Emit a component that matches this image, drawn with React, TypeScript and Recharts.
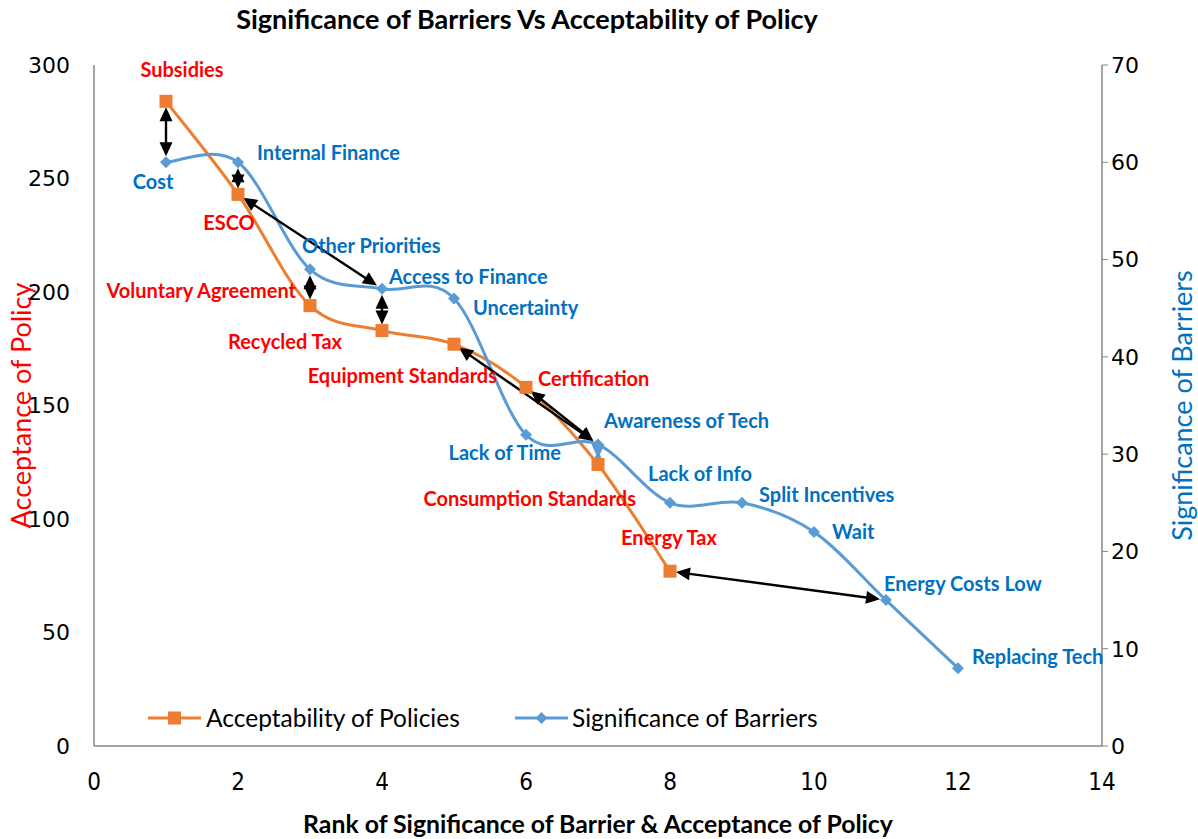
import React from "react";
import {
  LineChart,
  Line,
  XAxis,
  YAxis,
  ReferenceLine,
  LabelList,
  Legend,
} from "recharts";

// ranks 1..12 on the x axis
const policyRanks = [1, 2, 3, 4, 5, 6, 7, 8];
const policyNames = [
  "Subsidies",
  "ESCO",
  "Voluntary Agreement",
  "Recycled Tax",
  "Equipment Standards",
  "Certification",
  "Consumption Standards",
  "Energy Tax",
];
const policyValues = [284, 243, 194, 183, 177, 158, 124, 77];

const barrierRanks = [1, 2, 3, 4, 5, 6, 7, 8, 9, 10, 11, 12];
const barrierNames = [
  "Cost",
  "Internal Finance",
  "Other Priorities",
  "Access to Finance",
  "Uncertainty",
  "Lack of Time",
  "Awareness of Tech",
  "Lack of Info",
  "Split Incentives",
  "Wait",
  "Energy Costs Low",
  "Replacing Tech",
];
const barrierValues = [60, 60, 49, 47, 46, 32, 31, 25, 25, 22, 15, 8];

const xTicks = [0, 2, 4, 6, 8, 10, 12, 14];
const policyTicks = [0, 50, 100, 150, 200, 250, 300];
const barrierTicks = [0, 10, 20, 30, 40, 50, 60, 70];

// [policy rank, barrier rank] pairs joined by an arrow
const links = [
  [1, 1],
  [2, 2],
  [2, 4],
  [3, 3],
  [4, 4],
  [5, 7],
  [6, 7],
  [7, 7],
  [8, 11],
];

const ORANGE = "#ED7D31";
const BLUE = "#5B9BD5";
const RED_TEXT = "#FF0000";
const BLUE_TEXT = "#0070C0";
const AXIS = "#868686";
const FONT = "Lato, 'Open Sans', sans-serif";
const NUM_FONT = "'DejaVu Sans', sans-serif";
const NARROW_FONT = "'Liberation Sans Narrow', 'DejaVu Sans Condensed', Lato, sans-serif";

const POLICY_MAX = 300;
const BARRIER_MAX = 70;

// label placement relative to each point (anchor, dx, dy in px)
const policyLabelPos: [string, number, number][] = [
  ["middle", 16, -32],
  ["middle", -9, 28],
  ["end", -14, -16],
  ["end", -40, 10],
  ["end", 43, 31],
  ["start", 12, -9],
  ["end", 38, 33],
  ["middle", -1, -34],
];
const barrierLabelPos: [string, number, number][] = [
  ["middle", -13, 19],
  ["start", 19, -10],
  ["start", -8, -24],
  ["start", 7, -13],
  ["start", 19, 9],
  ["end", 35, 17],
  ["start", 6, -24],
  ["start", -22, -30],
  ["start", 17, -9],
  ["start", 18, -1],
  ["start", -2, -17],
  ["start", 14, -12],
];

const data = barrierRanks.map((rank, i) => {
  const p = policyRanks.indexOf(rank);
  return {
    rank,
    policy: p >= 0 ? policyValues[p] : null,
    policyName: p >= 0 ? policyNames[p] : null,
    barrier: barrierValues[i],
    barrierName: barrierNames[i],
  };
});

// Excel style smoothed line (Catmull-Rom through every point)
const excelSmooth = (context: any) => {
  let pts: number[][] = [];
  return {
    areaStart() {},
    areaEnd() {},
    lineStart() {
      pts = [];
    },
    point(x: number, y: number) {
      pts.push([+x, +y]);
    },
    lineEnd() {
      const n = pts.length;
      if (!n) return;
      context.moveTo(pts[0][0], pts[0][1]);
      for (let i = 0; i < n - 1; i++) {
        const p0 = pts[Math.max(i - 1, 0)];
        const p1 = pts[i];
        const p2 = pts[i + 1];
        const p3 = pts[Math.min(i + 2, n - 1)];
        context.bezierCurveTo(
          p1[0] + (p2[0] - p0[0]) / 6,
          p1[1] + (p2[1] - p0[1]) / 6,
          p2[0] - (p3[0] - p1[0]) / 6,
          p2[1] - (p3[1] - p1[1]) / 6,
          p2[0],
          p2[1]
        );
      }
    },
  };
};

const Square = (props: any) => {
  const { cx, cy, payload } = props;
  if (cx == null || cy == null || payload?.policy == null) return null;
  return <rect x={cx - 6.5} y={cy - 6.5} width={13} height={13} fill={ORANGE} />;
};

const Diamond = (props: any) => {
  const { cx, cy } = props;
  if (cx == null || cy == null) return null;
  const r = 6;
  return (
    <polygon
      points={`${cx},${cy - r} ${cx + r},${cy} ${cx},${cy + r} ${cx - r},${cy}`}
      fill={BLUE}
    />
  );
};

const makeLabel =
  (pos: [string, number, number][], color: string) => (props: any) => {
    const { x, y, value, index } = props;
    if (value == null || x == null || y == null || !pos[index]) return null;
    const [anchor, dx, dy] = pos[index];
    return (
      <text
        x={x + dx}
        y={y + dy}
        textAnchor={anchor}
        dominantBaseline="central"
        fill={color}
        fontFamily={FONT}
        fontWeight={700}
        fontSize={20}
      >
        {value}
      </text>
    );
  };

const arrowShape = (color: string) => (props: any) => {
  const { x1, y1, x2, y2 } = props;
  if ([x1, y1, x2, y2].some((v) => v == null || isNaN(v))) return null;
  const len = Math.hypot(x2 - x1, y2 - y1);
  const ux = (x2 - x1) / len;
  const uy = (y2 - y1) / len;
  const gap = 6;
  const L = 14;
  const W = 6.5;
  const ax = x1 + ux * gap;
  const ay = y1 + uy * gap;
  const bx = x2 - ux * gap;
  const by = y2 - uy * gap;
  const head = (tx: number, ty: number, dx: number, dy: number) => {
    const hx = tx - dx * L;
    const hy = ty - dy * L;
    return `${tx},${ty} ${hx - dy * W},${hy + dx * W} ${hx + dy * W},${hy - dx * W}`;
  };
  return (
    <g>
      <line
        x1={ax + ux * (L - 2)}
        y1={ay + uy * (L - 2)}
        x2={bx - ux * (L - 2)}
        y2={by - uy * (L - 2)}
        stroke={color}
        strokeWidth={2.4}
      />
      <polygon points={head(ax, ay, -ux, -uy)} fill={color} />
      <polygon points={head(bx, by, ux, uy)} fill={color} />
    </g>
  );
};

const renderLegend = () => (
  <div
    style={{
      display: "flex",
      alignItems: "center",
      fontFamily: FONT,
      fontSize: 24.5,
      color: "#000",
      whiteSpace: "nowrap",
    }}
  >
    <div style={{ width: 367, display: "flex", alignItems: "center" }}>
      <svg width={53} height={16}>
        <line x1={0} y1={8} x2={53} y2={8} stroke={ORANGE} strokeWidth={3} />
        <rect x={20} y={1.5} width={13} height={13} fill={ORANGE} />
      </svg>
      <span style={{ marginLeft: 5 }}>Acceptability of Policies</span>
    </div>
    <div style={{ display: "flex", alignItems: "center" }}>
      <svg width={53} height={16}>
        <line x1={0} y1={8} x2={53} y2={8} stroke={BLUE} strokeWidth={3} />
        <polygon points="26.5,2 32.5,8 26.5,14 20.5,8" fill={BLUE} />
      </svg>
      <span style={{ marginLeft: 4 }}>Significance of Barriers</span>
    </div>
  </div>
);

export default function App() {
  const toPolicyScale = (v: number) => (v * POLICY_MAX) / BARRIER_MAX;
  return (
    <div
      style={{
        position: "absolute",
        left: 0,
        top: 0,
        width: 1198,
        height: 839,
        background: "#fff",
      }}
    >
      <div
        style={{
          position: "absolute",
          left: 0,
          top: 2,
          width: 1054,
          textAlign: "center",
          fontFamily: FONT,
          fontWeight: 700,
          fontSize: 27,
          color: "#000",
        }}
      >
        Significance of Barriers Vs Acceptability of Policy
      </div>
      <LineChart
        width={1198}
        height={839}
        data={data}
        margin={{ top: 65, right: 0, bottom: 0, left: 0 }}
      >
        <XAxis
          dataKey="rank"
          type="number"
          domain={[0, 14]}
          ticks={xTicks}
          height={93}
          axisLine={{ stroke: AXIS, strokeWidth: 1.5 }}
          tickLine={false}
          tickMargin={21}
          tick={{ fill: "#000", fontSize: 24, fontFamily: NARROW_FONT }}
          label={(p: any) => {
            const vb = p.viewBox;
            return (
              <text
                x={vb.x + vb.width / 2}
                y={vb.y + 77}
                textAnchor="middle"
                dominantBaseline="central"
                fontFamily={FONT}
                fontWeight={700}
                fontSize={24.8}
                fill="#000"
              >
                Rank of Significance of Barrier &amp; Acceptance of Policy
              </text>
            );
          }}
        />
        <YAxis
          yAxisId="left"
          domain={[0, POLICY_MAX]}
          ticks={policyTicks}
          width={94}
          axisLine={{ stroke: AXIS, strokeWidth: 1.5 }}
          tickLine={false}
          tickMargin={18}
          tick={{ fill: "#000", fontSize: 22, fontFamily: NUM_FONT }}
          label={(p: any) => {
            const vb = p.viewBox;
            const cx = vb.x + 20;
            const cy = vb.y + vb.height / 2;
            return (
              <text
                x={cx}
                y={cy}
                transform={`rotate(-90 ${cx} ${cy})`}
                textAnchor="middle"
                dominantBaseline="central"
                fontFamily={FONT}
                fontSize={27}
                fill={RED_TEXT}
              >
                Acceptance of Policy
              </text>
            );
          }}
        />
        <YAxis
          yAxisId="right"
          orientation="right"
          domain={[0, BARRIER_MAX]}
          ticks={barrierTicks}
          width={96}
          axisLine={{ stroke: AXIS, strokeWidth: 1.5 }}
          tickLine={{ stroke: AXIS }}
          tickSize={6}
          tickMargin={3}
          tick={{ fill: "#000", fontSize: 22, fontFamily: NUM_FONT }}
          label={(p: any) => {
            const vb = p.viewBox;
            const cx = vb.x + 79;
            const cy = vb.y + vb.height / 2;
            return (
              <text
                x={cx}
                y={cy}
                transform={`rotate(-90 ${cx} ${cy})`}
                textAnchor="middle"
                dominantBaseline="central"
                fontFamily={FONT}
                fontSize={27}
                fill={BLUE_TEXT}
              >
                Significance of Barriers
              </text>
            );
          }}
        />
        <Line
          yAxisId="left"
          dataKey="policy"
          type={excelSmooth as any}
          stroke={ORANGE}
          strokeWidth={3}
          dot={<Square />}
          activeDot={false}
          isAnimationActive={false}
        >
          <LabelList
            dataKey="policyName"
            content={makeLabel(policyLabelPos, RED_TEXT)}
          />
        </Line>
        <Line
          yAxisId="right"
          dataKey="barrier"
          type={excelSmooth as any}
          stroke={BLUE}
          strokeWidth={3}
          dot={<Diamond />}
          activeDot={false}
          isAnimationActive={false}
        >
          <LabelList
            dataKey="barrierName"
            content={makeLabel(barrierLabelPos, BLUE_TEXT)}
          />
        </Line>
        {links.map(([pr, br], i) => (
          <ReferenceLine
            key={i}
            yAxisId="left"
            segment={[
              { x: pr, y: policyValues[policyRanks.indexOf(pr)] },
              { x: br, y: toPolicyScale(barrierValues[barrierRanks.indexOf(br)]) },
            ]}
            shape={arrowShape(pr === 7 ? BLUE : "#000")}
            ifOverflow="visible"
          />
        ))}
        <Legend
          layout="horizontal"
          verticalAlign="middle"
          align="center"
          content={renderLegend}
          wrapperStyle={{ left: 148, top: 703, width: 760, height: 30 }}
        />
      </LineChart>
    </div>
  );
}
